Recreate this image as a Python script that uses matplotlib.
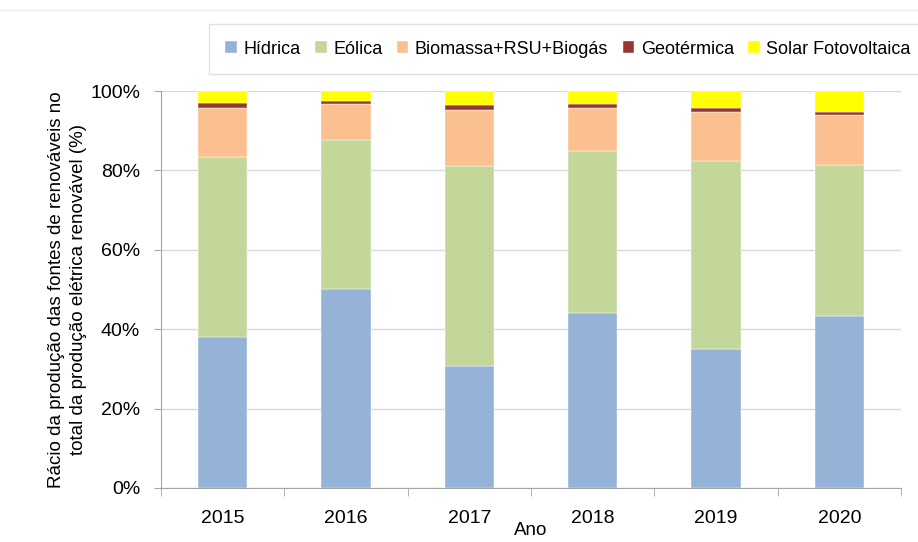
import numpy as np
import matplotlib
matplotlib.use("Agg")
import matplotlib.pyplot as plt
from matplotlib.ticker import PercentFormatter, FixedLocator

plt.rcParams['font.family'] = ['Liberation Sans', 'DejaVu Sans']

anos = ['2015', '2016', '2017', '2018', '2019', '2020']
hidrica = [38.1, 50.2, 30.8, 44.1, 35.0, 43.2]
eolica = [45.2, 37.4, 50.4, 40.9, 47.4, 38.2]
biomassa = [12.5, 9.2, 14.1, 10.8, 12.4, 12.6]
geotermica = [1.1, 0.7, 1.2, 0.9, 0.8, 0.6]
solar = [3.1, 2.5, 3.5, 3.3, 4.4, 5.4]

series = [
    ('Hídrica', hidrica, '#95B3D7'),
    ('Eólica', eolica, '#C4D79B'),
    ('Biomassa+RSU+Biogás', biomassa, '#FAC090'),
    ('Geotérmica', geotermica, '#953735'),
    ('Solar Fotovoltaica', solar, '#FFFF00'),
]

fig = plt.figure(figsize=(9.18, 5.42), dpi=100)
ax = fig.add_axes([161 / 918, 1 - 488 / 542, 740 / 918, 397 / 542])

x = np.arange(len(anos))
base = np.zeros(len(anos))
handles = []
for nome, vals, cor in series:
    b = ax.bar(x, vals, width=0.4, bottom=base, color=cor, label=nome,
               edgecolor='white', linewidth=0.3, zorder=3)
    handles.append(b)
    base += np.array(vals)

ax.set_xlim(-0.5, len(anos) - 0.5)
ax.set_ylim(0, 100)
ax.set_yticks(np.arange(0, 101, 20))
ax.yaxis.set_major_formatter(PercentFormatter(decimals=0))
ax.set_xticks(x)
ax.set_xticklabels(anos)
ax.xaxis.set_minor_locator(FixedLocator(np.arange(-0.5, len(anos), 1)))
ax.tick_params(axis='x', which='major', length=0, labelsize=14, pad=16)
ax.tick_params(axis='x', which='minor', length=6, color='#A6A6A6')
ax.tick_params(axis='y', length=5, color='#A6A6A6', labelsize=14, pad=10)

ax.grid(axis='y', color='#D9D9D9', linewidth=1, zorder=0)
for s in ['top', 'right']:
    ax.spines[s].set_visible(False)
for s in ['left', 'bottom']:
    ax.spines[s].set_color('#A6A6A6')

ax.set_ylabel('Rácio da produção das fontes de renováveis no\ntotal da produção elétrica renovável (%)',
              fontsize=13.5, labelpad=2, linespacing=1.4)
ax.set_xlabel('Ano', fontsize=13.5, labelpad=-4)

leg = fig.legend(handles=handles, loc='center', bbox_to_anchor=(568 / 918, 1 - 49 / 542),
                 ncol=5, frameon=True, fontsize=13, handlelength=0.65, handleheight=0.65,
                 handletextpad=0.35, columnspacing=0.8, borderpad=0.9, fancybox=False)
leg.get_frame().set_edgecolor('#D9D9D9')
leg.get_frame().set_linewidth(1)

fig.add_artist(plt.Line2D([0, 1], [1 - 10 / 542, 1 - 10 / 542], color='#EBEBEB', linewidth=1))

fig.savefig('out.png', dpi=100)
